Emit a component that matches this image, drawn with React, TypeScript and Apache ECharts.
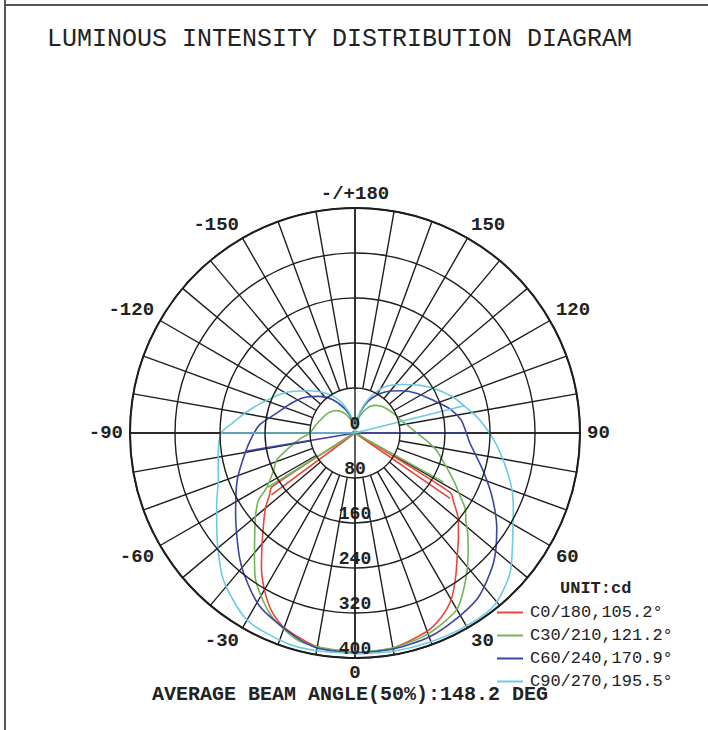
import React, { useEffect, useRef } from "react";
import * as echarts from "echarts";

const FONT = '"Liberation Mono", "Courier New", monospace';

// Radius scale (cd)
const radiusMax = 400;
const radiusStep = 80;
// Angle axis (degrees, 0 at the bottom)
const angleLabelStep = 30;
const angleGridStep = 10;

// [gamma (deg), intensity (cd)] for each half-plane
const c0Right: [number, number][] = [[0,390],[10,388],[20,375],[25,362],[30,342],[35,312],[40,283],[45,260],[50,240],[55,214],[58,200],[62,12],[70,6],[90,5],[120,4],[150,3],[180,0]];
const c180Left: [number, number][] = [[0,390],[10,386],[20,368],[25,350],[30,322],[35,290],[40,257],[45,230],[50,208],[54,188],[57,176],[61,12],[70,6],[90,5],[120,4],[150,3],[180,0]];
const c30Right: [number, number][] = [[0,390],[10,388],[20,380],[30,362],[37,327],[43,295],[48,270],[52,250],[55,240],[59,218],[63,200],[67,183],[72,165],[78,148],[84,128],[90,110],[100,92],[106,84],[115,78],[125,72],[135,67],[145,60],[155,48],[165,30],[172,15],[180,0]];
const c210Left: [number, number][] = [[0,390],[10,386],[16,381],[25,356],[35,310],[40,278],[45,252],[50,231],[55,210],[58,186],[65,160],[71,147],[78,118],[85,95],[90,80],[100,72],[110,66],[120,62],[130,58],[140,52],[150,42],[160,28],[170,14],[180,0]];
const c60Right: [number, number][] = [[0,392],[10,390],[20,386],[28,377],[37,365],[47,337],[56,304],[65,269],[74,236],[85,205],[90,198],[97,190],[105,172],[113,150],[123,130],[133,110],[143,92],[150,78],[158,60],[165,40],[172,20],[180,0]];
const c240Left: [number, number][] = [[0,392],[10,388],[16,378],[29,351],[41,309],[56,256],[68,226],[80,198],[88,183],[95,170],[105,142],[115,125],[125,110],[135,92],[146,72],[158,45],[170,20],[180,0]];
const c90Right: [number, number][] = [[0,393],[10,394],[20,395],[30,396],[39,394],[48,371],[58,331],[66,308],[73,288],[85,253],[96,223],[104,200],[110,186],[118,165],[126,144],[136,120],[146,100],[155,75],[163,50],[170,25],[180,0]];
const c270Left: [number, number][] = [[0,392],[10,393],[18,393],[30,384],[42,350],[55,300],[63,276],[71,257],[80,247],[90,238],[95,217],[101,196],[107,177],[119,146],[133,110],[145,85],[155,62],[165,35],[172,15],[180,0]];

// Extra radial strokes drawn by the plotting software [gamma, cd]
const c0Spur: [number, number] = [55.5, 205];
const c180Spur: [number, number] = [53.5, 185];
const c30Spur: [number, number] = [61, 180];
const c210Spur: [number, number] = [58, 182];
const c60Spur: [number, number] = [90, 198];
const c240Spur: [number, number] = [80.5, 197];
const c90Spur: [number, number] = [104, 200];
const c270Spur: [number, number] = [90, 238];

const planeNames = ["C0/180,105.2°", "C30/210,121.2°", "C60/240,170.9°", "C90/270,195.5°"];
const planeColors = ["#e8463c", "#72b556", "#3d45a3", "#6ccae2"];

const title = "LUMINOUS INTENSITY DISTRIBUTION DIAGRAM";
const unitText = "UNIT:cd";
const beamText = "AVERAGE BEAM ANGLE(50%):148.2 DEG";

function halfData(half: [number, number][], spur: [number, number], side: "left" | "right") {
  const toAngle = (g: number) => (side === "right" ? g : 360 - g);
  const curve = half.map(([g, v]) => [v, toAngle(g)]);
  const spurLine = [[0, toAngle(180)], [spur[1], toAngle(spur[0])]];
  return { curve, spurLine };
}

const planes = [
  { left: halfData(c180Left, c180Spur, "left"), right: halfData(c0Right, c0Spur, "right") },
  { left: halfData(c210Left, c210Spur, "left"), right: halfData(c30Right, c30Spur, "right") },
  { left: halfData(c240Left, c240Spur, "left"), right: halfData(c60Right, c60Spur, "right") },
  { left: halfData(c270Left, c270Spur, "left"), right: halfData(c90Right, c90Spur, "right") },
];

const CENTER = [355, 433];
const R = 225;
const GRID = "#1e1e1e";

function angleAxisBase(polarIndex: number) {
  return {
    polarIndex,
    type: "value" as const,
    min: 0,
    max: 360,
    startAngle: 270,
    clockwise: false,
  };
}

export default function App() {
  const ref = useRef<HTMLDivElement>(null);
  useEffect(() => {
    const chart = echarts.init(ref.current!, null, { renderer: "svg" });
    const series: any[] = [];
    planes.forEach((p, i) => {
      const common = {
        name: planeNames[i],
        type: "line",
        coordinateSystem: "polar",
        polarIndex: 0,
        symbol: "none",
        color: planeColors[i],
        lineStyle: { color: planeColors[i], width: 1.6 },
        z: 3,
      };
      series.push({ ...common, data: p.left.curve, smooth: 0.25 });
      series.push({ ...common, data: p.right.curve, smooth: 0.25 });
      series.push({ ...common, data: p.left.spurLine, smooth: false });
      series.push({ ...common, data: p.right.spurLine, smooth: false });
    });
    const option: any = {
      animation: false,
      backgroundColor: "#ffffff",
      polar: [
        { center: CENTER, radius: [0, R] },
        { center: CENTER, radius: [R * radiusStep / radiusMax, R] },
        { center: CENTER, radius: [0, R] },
      ],
      angleAxis: [
        {
          ...angleAxisBase(0),
          interval: angleLabelStep,
          axisLine: { show: true, lineStyle: { color: GRID, width: 2 } },
          axisTick: { show: false },
          splitLine: { show: false },
          axisLabel: {
            show: true,
            margin: 7,
            color: "#222",
            fontFamily: FONT,
            fontWeight: "bold",
            fontSize: 19,
            lineHeight: 15,
            formatter: (v: number) => (v === 180 ? "-/+180" : v > 180 ? String(v - 360) : String(v)),
          },
          z: 1,
        },
        {
          ...angleAxisBase(1),
          interval: angleGridStep,
          axisLine: { show: false },
          axisTick: { show: false },
          axisLabel: { show: false },
          splitLine: { show: true, lineStyle: { color: GRID, width: 1.4 } },
        },
        {
          ...angleAxisBase(2),
          interval: 90,
          axisLine: { show: false },
          axisTick: { show: false },
          axisLabel: { show: false },
          splitLine: { show: true, lineStyle: { color: GRID, width: 1.4 } },
        },
      ],
      radiusAxis: [
        {
          polarIndex: 0,
          type: "value",
          min: 0,
          max: radiusMax,
          interval: radiusStep,
          axisLine: { show: false },
          axisTick: { show: false },
          splitLine: { show: true, lineStyle: { color: GRID, width: 1.4 } },
          axisLabel: {
            show: true,
            margin: 0,
            align: "center",
            verticalAlign: "bottom",
            color: "#222",
            fontFamily: FONT,
            fontWeight: "bold",
            fontSize: 18,
          },
          z: 5,
        },
        { polarIndex: 1, type: "value", min: 0, max: radiusMax, show: false },
        { polarIndex: 2, type: "value", min: 0, max: radiusMax, show: false },
      ],
      legend: {
        orient: "vertical",
        left: 497,
        top: 601,
        icon: "rect",
        itemWidth: 26,
        itemHeight: 2,
        itemGap: 0,
        padding: 0,
        textStyle: { fontFamily: FONT, fontSize: 17, color: "#222", lineHeight: 23, padding: [0, 0, 0, 2] },
        data: planeNames,
      },
      series,
      graphic: [
        { type: "line", shape: { x1: 5, y1: 0, x2: 5, y2: 730 }, style: { stroke: "#555", lineWidth: 2 } },
        { type: "line", shape: { x1: 5, y1: 5, x2: 708, y2: 5 }, style: { stroke: "#555", lineWidth: 2 } },
        {
          type: "text",
          left: 47,
          top: 27,
          style: { text: title, fontFamily: FONT, fontSize: 25, fill: "#222" },
        },
        {
          type: "text",
          left: 560,
          top: 580,
          style: { text: unitText, fontFamily: FONT, fontSize: 17, fontWeight: "bold", fill: "#222" },
        },
        {
          type: "text",
          left: 152,
          top: 684,
          style: { text: beamText, fontFamily: FONT, fontSize: 20, fontWeight: "bold", fill: "#222", lineHeight: 16 },
        },
      ],
    };
    chart.setOption(option);
    return () => chart.dispose();
  }, []);
  return (
    <div
      ref={ref}
      style={{ position: "absolute", left: 0, top: 0, width: 708, height: 730, background: "#fff" }}
    />
  );
}
